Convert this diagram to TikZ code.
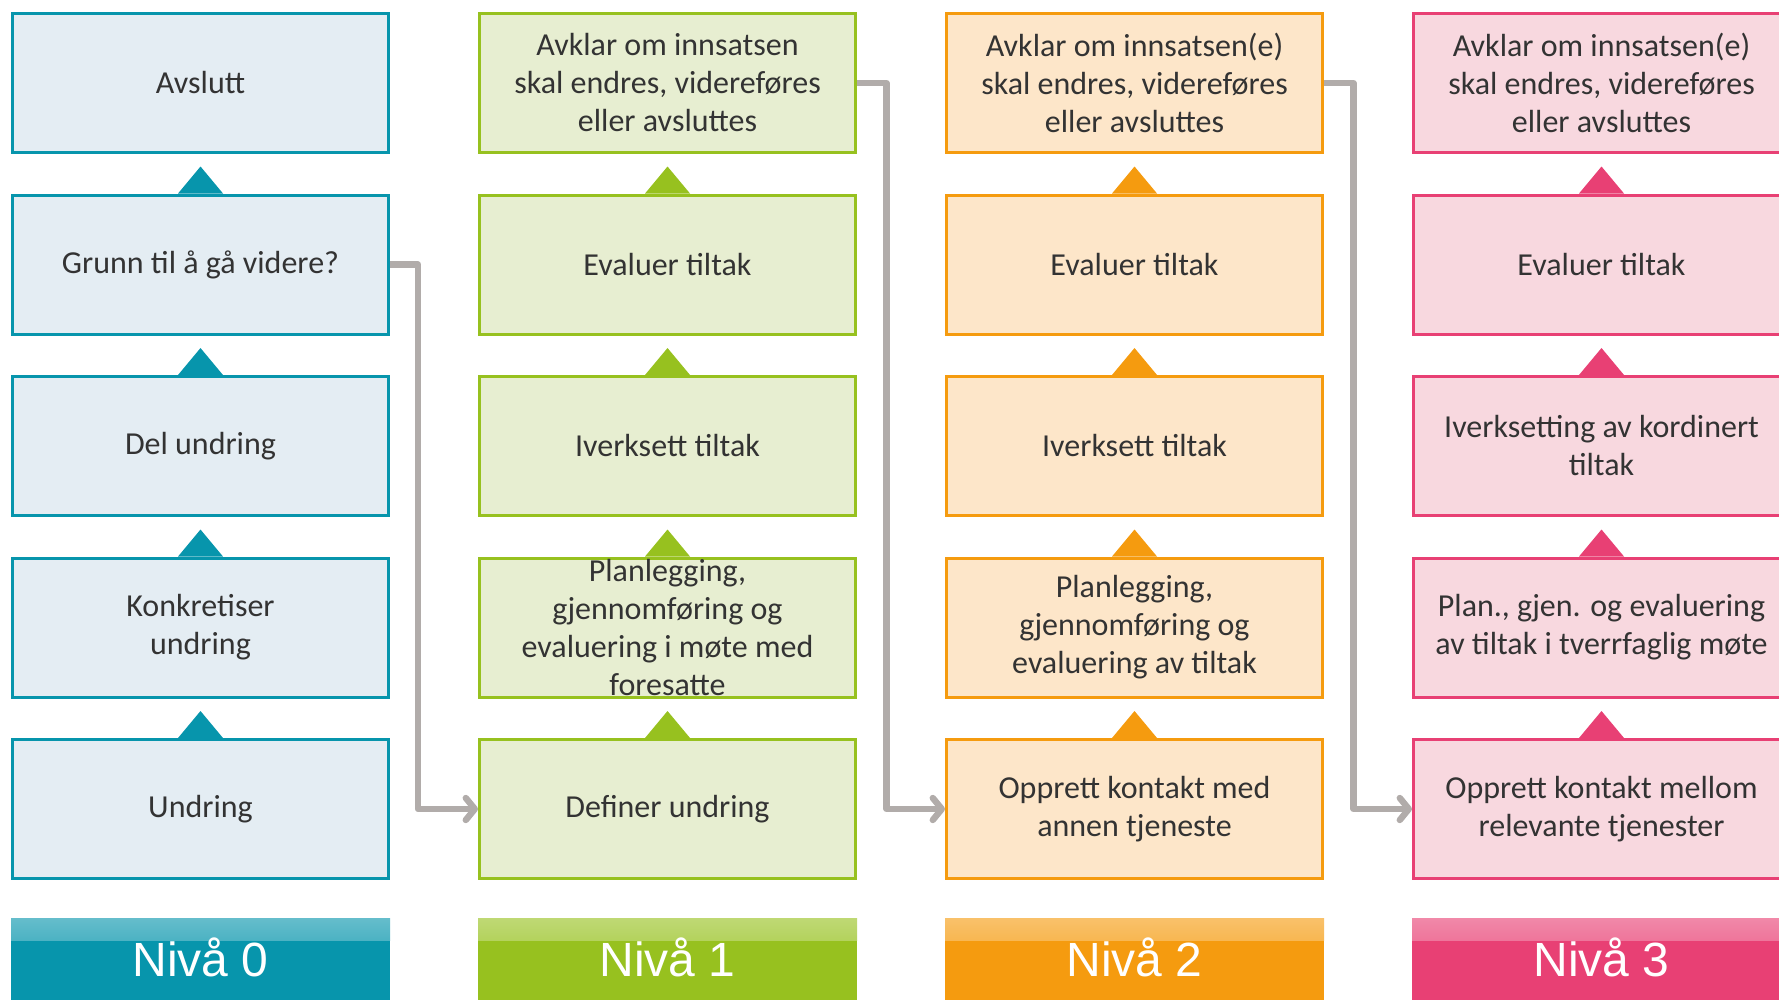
\documentclass[tikz,border=0pt]{standalone}
\usepackage{fontspec}
\setmainfont{Carlito}
\newfontfamily\headfont{Liberation Sans}
\usepackage{tikz}
\usetikzlibrary{arrows.meta,positioning,calc}

\definecolor{teal0}{RGB}{7,149,172}
\definecolor{tealfill}{RGB}{228,237,243}
\definecolor{green1}{RGB}{151,193,31}
\definecolor{greenfill}{RGB}{231,238,209}
\definecolor{orange2}{RGB}{245,155,15}
\definecolor{orangefill}{RGB}{253,230,201}
\definecolor{pink3}{RGB}{232,64,116}
\definecolor{pinkfill}{RGB}{248,216,223}
\definecolor{linkgray}{RGB}{177,172,170}
\definecolor{textgray}{RGB}{51,51,51}

\begin{document}
\begin{tikzpicture}[
    node distance=19.75pt and 44pt,
    block/.style={
        rectangle,
        draw,
        line width=1.5pt,
        align=center,
        minimum width=188pt,
        minimum height=69.5pt,
        inner ysep=0pt,
        text=textgray,
        font=\fontsize{16pt}{19pt}\selectfont
    },
    levelzero/.style={
        block,
        draw=teal0,
        fill=tealfill
    },
    levelone/.style={
        block,
        draw=green1,
        fill=greenfill
    },
    leveltwo/.style={
        block,
        draw=orange2,
        fill=orangefill
    },
    levelthree/.style={
        block,
        draw=pink3,
        fill=pinkfill
    },
    header/.style={
        rectangle,
        minimum width=189.5pt,
        minimum height=41pt,
        inner sep=0pt,
        outer sep=0pt,
        fill=#1,
        text=white,
        text height=17.2pt,
        text depth=0pt,
        font=\headfont\fontsize{24pt}{28pt}\selectfont,
        path picture={
            \shade[top color=#1!62!white, bottom color=#1]
                (path picture bounding box.north west) rectangle
                ([yshift=-11pt]path picture bounding box.north east);
        }
    },
    link/.style={draw=linkgray, line width=3.2pt, line join=round,
        -{Straight Barb[length=4.5pt,width=11pt,round]}}
]

\useasboundingbox (0,0) rectangle (889.5pt,-500.5pt);

% Level 0
\node[levelzero] at (100.25pt,-41.5pt) (avslutt0) {Avslutt};
\node[levelzero, below=of avslutt0] (grunn0) {Grunn til å gå videre?};
\node[levelzero, below=of grunn0] (del0) {Del undring};
\node[levelzero, below=of del0] (konkret0) {Konkretiser\\undring};
\node[levelzero, below=of konkret0] (undring0) {Undring};

% Level 1
\node[levelone, right=of avslutt0] (avklar1) {Avklar om innsatsen\\skal endres, videreføres\\eller avsluttes};
\node[levelone, below=of avklar1] (evaluer1) {Evaluer tiltak};
\node[levelone, below=of evaluer1] (iverksett1) {Iverksett tiltak};
\node[levelone, below=of iverksett1] (plan1) {Planlegging,\\gjennomføring og\\evaluering i møte med\\foresatte};
\node[levelone, below=of plan1] (definer1) {Definer undring};

% Level 2
\node[leveltwo, right=of avklar1] (avklar2) {Avklar om innsatsen(e)\\skal endres, videreføres\\eller avsluttes};
\node[leveltwo, below=of avklar2] (evaluer2) {Evaluer tiltak};
\node[leveltwo, below=of evaluer2] (iverksett2) {Iverksett tiltak};
\node[leveltwo, below=of iverksett2] (plan2) {Planlegging,\\gjennomføring og\\evaluering av tiltak};
\node[leveltwo, below=of plan2] (kontakt2) {Opprett kontakt med\\annen tjeneste};

% Level 3
\node[levelthree, right=of avklar2] (avklar3) {Avklar om innsatsen(e)\\skal endres, videreføres\\eller avsluttes};
\node[levelthree, below=of avklar3] (evaluer3) {Evaluer tiltak};
\node[levelthree, below=of evaluer3] (iverksett3) {Iverksetting av kordinert\\tiltak};
\node[levelthree, below=of iverksett3] (plan3) {Plan., gjen. og evaluering\\av tiltak i tverrfaglig møte};
\node[levelthree, below=of plan3] (kontakt3) {Opprett kontakt mellom\\relevante tjenester};

% Level headers
\node[header=teal0, below=19pt of undring0] (niva0) {Nivå 0};
\node[header=green1, below=19pt of definer1] (niva1) {Nivå 1};
\node[header=orange2, below=19pt of kontakt2] (niva2) {Nivå 2};
\node[header=pink3, below=19pt of kontakt3] (niva3) {Nivå 3};

% Step triangles
\fill[teal0] ([xshift=-11.25pt]grunn0.north) -- ([yshift=13.5pt]grunn0.north) -- ([xshift=11.25pt]grunn0.north) -- cycle;
\fill[teal0] ([xshift=-11.25pt]del0.north) -- ([yshift=13.5pt]del0.north) -- ([xshift=11.25pt]del0.north) -- cycle;
\fill[teal0] ([xshift=-11.25pt]konkret0.north) -- ([yshift=13.5pt]konkret0.north) -- ([xshift=11.25pt]konkret0.north) -- cycle;
\fill[teal0] ([xshift=-11.25pt]undring0.north) -- ([yshift=13.5pt]undring0.north) -- ([xshift=11.25pt]undring0.north) -- cycle;

\fill[green1] ([xshift=-11.25pt]evaluer1.north) -- ([yshift=13.5pt]evaluer1.north) -- ([xshift=11.25pt]evaluer1.north) -- cycle;
\fill[green1] ([xshift=-11.25pt]iverksett1.north) -- ([yshift=13.5pt]iverksett1.north) -- ([xshift=11.25pt]iverksett1.north) -- cycle;
\fill[green1] ([xshift=-11.25pt]plan1.north) -- ([yshift=13.5pt]plan1.north) -- ([xshift=11.25pt]plan1.north) -- cycle;
\fill[green1] ([xshift=-11.25pt]definer1.north) -- ([yshift=13.5pt]definer1.north) -- ([xshift=11.25pt]definer1.north) -- cycle;

\fill[orange2] ([xshift=-11.25pt]evaluer2.north) -- ([yshift=13.5pt]evaluer2.north) -- ([xshift=11.25pt]evaluer2.north) -- cycle;
\fill[orange2] ([xshift=-11.25pt]iverksett2.north) -- ([yshift=13.5pt]iverksett2.north) -- ([xshift=11.25pt]iverksett2.north) -- cycle;
\fill[orange2] ([xshift=-11.25pt]plan2.north) -- ([yshift=13.5pt]plan2.north) -- ([xshift=11.25pt]plan2.north) -- cycle;
\fill[orange2] ([xshift=-11.25pt]kontakt2.north) -- ([yshift=13.5pt]kontakt2.north) -- ([xshift=11.25pt]kontakt2.north) -- cycle;

\fill[pink3] ([xshift=-11.25pt]evaluer3.north) -- ([yshift=13.5pt]evaluer3.north) -- ([xshift=11.25pt]evaluer3.north) -- cycle;
\fill[pink3] ([xshift=-11.25pt]iverksett3.north) -- ([yshift=13.5pt]iverksett3.north) -- ([xshift=11.25pt]iverksett3.north) -- cycle;
\fill[pink3] ([xshift=-11.25pt]plan3.north) -- ([yshift=13.5pt]plan3.north) -- ([xshift=11.25pt]plan3.north) -- cycle;
\fill[pink3] ([xshift=-11.25pt]kontakt3.north) -- ([yshift=13.5pt]kontakt3.north) -- ([xshift=11.25pt]kontakt3.north) -- cycle;

% Links between levels
\draw[link] (grunn0.east) -- ++(14pt,0) |- (definer1.west);
\draw[link] (avklar1.east) -- ++(14.75pt,0) |- (kontakt2.west);
\draw[link] (avklar2.east) -- ++(14.75pt,0) |- (kontakt3.west);

\end{tikzpicture}
\end{document}
